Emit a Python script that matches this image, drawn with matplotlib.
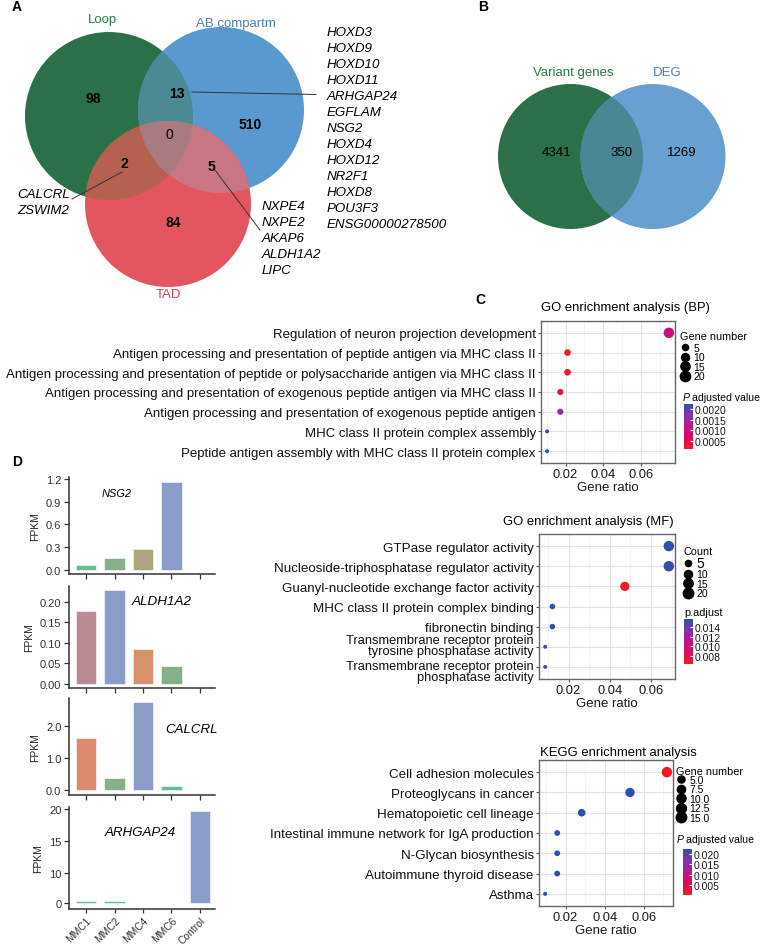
import numpy as np
import matplotlib
matplotlib.use('Agg')
import matplotlib.pyplot as plt
import matplotlib.transforms as mtransforms
from matplotlib.patches import Circle, Polygon
from matplotlib.colors import LinearSegmentedColormap
from matplotlib.lines import Line2D
from matplotlib.ticker import NullLocator

plt.rcParams['font.family'] = ['Liberation Sans', 'DejaVu Sans']

W, H = 763, 945

# ---------------- data ----------------
venn3_sets = ['Loop', 'AB compartm', 'TAD']
venn3_regions = ['Loop', 'AB', 'TAD', 'Loop&AB', 'Loop&TAD', 'AB&TAD', 'all']
venn3_counts = [98, 510, 84, 13, 2, 5, 0]
genes_loop_ab = ['HOXD3', 'HOXD9', 'HOXD10', 'HOXD11', 'ARHGAP24', 'EGFLAM', 'NSG2',
                 'HOXD4', 'HOXD12', 'NR2F1', 'HOXD8', 'POU3F3', 'ENSG00000278500']
genes_loop_tad = ['CALCRL', 'ZSWIM2']
genes_ab_tad = ['NXPE4', 'NXPE2', 'AKAP6', 'ALDH1A2', 'LIPC']

venn2_sets = ['Variant genes', 'DEG']
venn2_counts = [4341, 350, 1269]   # left only, both, right only

bp_terms = ['Regulation of neuron projection development',
            'Antigen processing and presentation of peptide antigen via MHC class II',
            'Antigen processing and presentation of peptide or polysaccharide antigen via MHC class II',
            'Antigen processing and presentation of exogenous peptide antigen via MHC class II',
            'Antigen processing and presentation of exogenous peptide antigen',
            'MHC class II protein complex assembly',
            'Peptide antigen assembly with MHC class II protein complex']
bp_ratio = [0.0747, 0.0210, 0.0210, 0.0172, 0.0172, 0.0102, 0.0102]
bp_count = [21, 6, 6, 5, 5, 3, 3]
bp_padj = [0.0010, 0.00013, 0.00015, 0.0004, 0.0016, 0.00223, 0.00223]

mf_terms = ['GTPase regulator activity',
            'Nucleoside-triphosphatase regulator activity',
            'Guanyl-nucleotide exchange factor activity',
            'MHC class II protein complex binding',
            'fibronectin binding',
            'Transmembrane receptor protein\ntyrosine phosphatase activity',
            'Transmembrane receptor protein\nphosphatase activity']
mf_ratio = [0.0686, 0.0686, 0.0473, 0.0122, 0.0122, 0.0087, 0.0087]
mf_count = [20, 20, 14, 4, 4, 3, 3]
mf_padj = [0.0157, 0.0155, 0.0063, 0.0157, 0.0157, 0.0152, 0.0152]

kegg_terms = ['Cell adhesion molecules', 'Proteoglycans in cancer',
              'Hematopoietic cell lineage', 'Intestinal immune network for IgA production',
              'N-Glycan biosynthesis', 'Autoimmune thyroid disease', 'Asthma']
kegg_ratio = [0.0718, 0.0529, 0.0282, 0.0157, 0.0157, 0.0157, 0.0095]
kegg_count = [15, 11, 6, 3, 3, 3, 2]
kegg_padj = [0.0003, 0.0222, 0.0222, 0.0222, 0.0222, 0.0222, 0.0222]

samples = ['MMC1', 'MMC2', 'MMC4', 'MMC6', 'Control']
fpkm_nsg2 = [0.066, 0.16, 0.28, 1.165, 0.0]
fpkm_aldh1a2 = [0.177, 0.228, 0.084, 0.043, 0.0]
fpkm_calcrl = [1.64, 0.37, 2.77, 0.14, 0.0]
fpkm_arhgap24 = [0.6, 0.9, 0.08, 0.08, 19.8]

# ---------------- helpers ----------------
fig = plt.figure(figsize=(W / 100, H / 100), dpi=100)


def px_axes(x0, y0, x1, y1):
    return fig.add_axes([x0 / W, 1 - y1 / H, (x1 - x0) / W, (y1 - y0) / H])


bg = px_axes(0, 0, W, H)
bg.set_xlim(0, W)
bg.set_ylim(H, 0)
bg.axis('off')


def region_poly(circles, n=720):
    # intersection of circles is convex: keep boundary points inside all, sort by angle
    pts = []
    t = np.linspace(0, 2 * np.pi, n, endpoint=False)
    for cx, cy, r in circles:
        p = np.column_stack([cx + r * np.cos(t), cy + r * np.sin(t)])
        ok = np.ones(n, bool)
        for ox, oy, orr in circles:
            ok &= (p[:, 0] - ox) ** 2 + (p[:, 1] - oy) ** 2 <= orr ** 2 + 1e-6
        pts.append(p[ok])
    pts = np.vstack(pts)
    c = pts.mean(axis=0)
    return pts[np.argsort(np.arctan2(pts[:, 1] - c[1], pts[:, 0] - c[0]))]


def panel_letter(x, y, s):
    bg.text(x, y, s, fontsize=10, fontweight='bold', ha='left', va='center')


# ---------------- A: three-set venn ----------------
loop_c, ab_c, tad_c = (109, 117, 84), (221, 111, 83), (168, 205, 83)
base_cols = ['#2b7049', '#5a99cf', '#e3565f']
for (cx, cy, r), col in zip([loop_c, ab_c, tad_c], base_cols):
    bg.add_patch(Circle((cx, cy), r, facecolor=col, edgecolor='none'))
for circ, col in [((loop_c, ab_c), '#4b8a93'), ((loop_c, tad_c), '#b4614f'),
                  ((ab_c, tad_c), '#c97684'), ((loop_c, ab_c, tad_c), '#a97b80')]:
    bg.add_patch(Polygon(region_poly(circ), closed=True, facecolor=col, edgecolor='none'))

bg.text(102, 20, venn3_sets[0], color='#2a7a48', fontsize=9.5, ha='center', va='center')
bg.text(236, 24, venn3_sets[1], color='#4a80b0', fontsize=9.5, ha='center', va='center')
bg.text(168, 295, venn3_sets[2], color='#cf4452', fontsize=9.5, ha='center', va='center')

num_pos = [(93, 99), (250, 125), (173, 223), (177, 94), (124, 164), (211, 167), (169, 135)]
for (x, y), v, reg in zip(num_pos, venn3_counts, venn3_regions):
    bg.text(x, y, str(v), fontsize=10, ha='center', va='center',
            fontweight='normal' if reg == 'all' else 'bold')

for i, g in enumerate(genes_loop_ab):
    bg.text(327, 33 + 16 * i, g, fontsize=9.6, style='italic', ha='left', va='center')
for i, g in enumerate(genes_loop_tad):
    bg.text(17, 195 + 16 * i, g, fontsize=9.6, style='italic', ha='left', va='center')
for i, g in enumerate(genes_ab_tad):
    bg.text(262, 207 + 16 * i, g, fontsize=9.6, style='italic', ha='left', va='center')
bg.plot([192, 316], [93, 95.5], color='#333333', lw=0.7)
bg.plot([72, 122], [200, 173], color='#333333', lw=0.7)
bg.plot([215, 260], [171, 231], color='#333333', lw=0.7)
panel_letter(12, 7, 'A')

# ---------------- B: two-set venn ----------------
var_c, deg_c = (570.5, 157.5, 72.5), (653, 157.5, 72.5)
bg.add_patch(Circle(var_c[:2], var_c[2], facecolor='#2b7049', edgecolor='none'))
bg.add_patch(Circle(deg_c[:2], deg_c[2], facecolor='#68a0d2', edgecolor='none'))
bg.add_patch(Polygon(region_poly((var_c, deg_c)), closed=True, facecolor='#4a8693', edgecolor='none'))
bg.text(573, 73, venn2_sets[0], color='#2a7a48', fontsize=9.5, ha='center', va='center')
bg.text(667, 73, venn2_sets[1], color='#4a7fb0', fontsize=9.5, ha='center', va='center')
for x, v in zip([556, 622, 682], venn2_counts):
    bg.text(x, 153, str(v), fontsize=9.5, ha='center', va='center')
panel_letter(478, 7, 'B')

# ---------------- C: enrichment dot plots ----------------
cmap = LinearSegmentedColormap.from_list(
    'padj', ['#ee1b2b', '#dc0a5c', '#c0128a', '#8434a6', '#2f4fb0'])


def dot_px(c, cmin, cmax):
    return 4.0 + 6.5 * np.sqrt((np.asarray(c, float) - cmin) / (cmax - cmin))


def dot_panel(box, terms, ratio, count, padj, fs):
    ax = px_axes(*box)
    n = len(terms)
    y = np.arange(n)
    cmin, cmax = min(count), max(count)
    s = (dot_px(count, cmin, cmax) * 0.72) ** 2
    sc = ax.scatter(ratio, y, s=s, c=padj, cmap=cmap, vmin=min(padj), vmax=max(padj),
                    linewidths=0, zorder=3)
    r = max(ratio) - min(ratio)
    ax.set_xlim(min(ratio) - 0.05 * r, max(ratio) + 0.05 * r)
    ax.set_ylim(n - 0.4, -0.6)
    ax.set_yticks(y)
    ax.set_yticklabels(terms, fontsize=fs, color='#111111', linespacing=0.82)
    ax.set_xticks([0.02, 0.04, 0.06])
    ax.set_xticklabels(['0.02', '0.04', '0.06'], fontsize=9.3, color='#1a1a1a')
    ax.set_xticks([0.01, 0.03, 0.05, 0.07], minor=True)
    ax.grid(which='major', color='#e2e2e2', lw=0.8)
    ax.grid(which='minor', axis='x', color='#eeeeee', lw=0.5)
    ax.set_axisbelow(True)
    for sp in ax.spines.values():
        sp.set_color('#666666')
        sp.set_linewidth(1.0)
    ax.tick_params(which='minor', length=0)
    ax.tick_params(which='major', length=2.2, color='#555555', pad=1.5)
    ax.set_xlabel('Gene ratio', fontsize=9.5, labelpad=0.5, color='#1a1a1a')
    return ax, sc, cmin, cmax


def colorbar(sc, box, ticks, labels):
    cax = px_axes(*box)
    cb = fig.colorbar(sc, cax=cax)
    cb.outline.set_visible(False)
    cb.set_ticks(ticks)
    cb.set_ticklabels(labels)
    cax.tick_params(length=2, width=0.8, color='white', direction='in', labelsize=7.5,
                    pad=1.5, labelcolor='#1a1a1a')


def size_legend(ax, breaks, labels, cmin, cmax, title, x, y_title, y_top):
    bg.text(x, y_title, title, fontsize=7.8, ha='left', va='center')
    handles = [Line2D([], [], ls='none', marker='o', color='black',
                      markersize=float(dot_px(b, cmin, cmax)) * 0.72) for b in breaks]
    leg = ax.legend(handles, labels, loc='upper left',
                    bbox_to_anchor=(x / W, 1 - y_top / H), bbox_transform=fig.transFigure,
                    frameon=False, fontsize=7.5, labelspacing=-0.05,
                    handletextpad=0.3, handlelength=1.0, borderpad=0, borderaxespad=0)
    return leg


def p_title(x, y, rest):
    bg.text(x, y, 'P', style='italic', fontsize=7.6, ha='left', va='center')
    bg.text(x + 8.5, y, rest, fontsize=7.6, ha='left', va='center')


# BP
ax_bp, sc_bp, c0, c1 = dot_panel((541, 322, 675, 464), bp_terms, bp_ratio, bp_count, bp_padj, 9.5)
panel_letter(475, 300, 'C')
bg.text(625, 308, 'GO enrichment analysis (BP)', fontsize=9.4, ha='center', va='center')
size_legend(ax_bp, [5, 10, 15, 20], ['5', '10', '15', '20'], c0, c1, 'Gene number',
            680, 337, 344)
p_title(683, 398, 'adjusted value')
colorbar(sc_bp, (684, 405, 693, 450), [0.0005, 0.0010, 0.0015, 0.0020],
         ['0.0005', '0.0010', '0.0015', '0.0020'])

# MF
ax_mf, sc_mf, c0, c1 = dot_panel((539, 535, 675, 680), mf_terms, mf_ratio, mf_count, mf_padj, 9.6)
mf_labels = ax_mf.get_yticklabels()
for lab, dy in [(mf_labels[5], 2), (mf_labels[6], -4)]:
    lab.set_fontsize(9.3)
    lab.set_transform(lab.get_transform() +
                      mtransforms.ScaledTranslation(0, dy / 100, fig.dpi_scale_trans))
bg.text(588, 522, 'GO enrichment analysis (MF)', fontsize=9.4, ha='center', va='center')
leg = size_legend(ax_mf, [5, 10, 15, 20], ['5', '10', '15', '20'], c0, c1, 'Count',
                  683, 552, 557)
leg.get_texts()[0].set_fontsize(10)
bg.text(684, 613, 'p.adjust', fontsize=7.8, ha='left', va='center')
colorbar(sc_mf, (684, 620, 693, 665), [0.008, 0.010, 0.012, 0.014],
         ['0.008', '0.010', '0.012', '0.014'])

# KEGG
ax_kg, sc_kg, c0, c1 = dot_panel((539, 761, 673, 907), kegg_terms, kegg_ratio, kegg_count, kegg_padj, 9.6)
bg.text(618, 753, 'KEGG enrichment analysis', fontsize=9.4, ha='center', va='center')
size_legend(ax_kg, [5, 7.5, 10, 12.5, 15], ['5.0', '7.5', '10.0', '12.5', '15.0'], c0, c1,
            'Gene number', 676, 772, 776)
p_title(677, 840, 'adjusted value')
colorbar(sc_kg, (683, 850, 692, 896), [0.005, 0.010, 0.015, 0.020],
         ['0.005', '0.010', '0.015', '0.020'])

# ---------------- D: FPKM bar plots ----------------
panel_letter(12, 462, 'D')
c_teal, c_green, c_olive, c_blue = '#66bd97', '#86b08a', '#aaa57c', '#8a9cc8'
c_mauve, c_orange, c_salmon = '#b98b93', '#d69369', '#dd8a6f'


def bar_panel(box, values, colors, yticks, ylabels, ylim, gene, gene_xy, gene_fs, last=False):
    ax = px_axes(*box)
    ax.set_facecolor('none')
    x = np.arange(len(samples))
    ax.bar(x, values, width=0.73, color=colors, edgecolor='white', linewidth=0.4)
    ax.set_xlim(-0.6, 4.53)
    ax.set_ylim(*ylim)
    ax.set_yticks(yticks)
    ax.set_yticklabels(ylabels, fontsize=8, color='#333333')
    ax.set_xticks(x)
    if last:
        ax.set_xticklabels(samples, rotation=45, ha='right', rotation_mode='anchor',
                           fontsize=7.4, color='#333333')
    else:
        ax.set_xticklabels([])
    for sp in ['top', 'right']:
        ax.spines[sp].set_visible(False)
    for sp in ['left', 'bottom']:
        ax.spines[sp].set_color('#333333')
        ax.spines[sp].set_linewidth(1.1)
    ax.tick_params(length=3.5, width=0.9, color='#333333', pad=2)
    if last:
        ax.tick_params(axis='x', length=3, pad=1)
    ax.set_ylabel('FPKM', fontsize=7.5, color='#222222', labelpad=4)
    bg.text(gene_xy[0], gene_xy[1], gene, style='italic', fontsize=gene_fs,
            ha='center', va='center')
    return ax


bar_panel((69, 478, 215, 575), fpkm_nsg2, [c_teal, c_green, c_olive, c_blue, c_blue],
          [0, 0.3, 0.6, 0.9, 1.2], ['0.0', '0.3', '0.6', '0.9', '1.2'], (-0.057, 1.226),
          'NSG2', (117, 494), 7.9)
bar_panel((69, 587, 215, 689), fpkm_aldh1a2, [c_mauve, c_blue, c_orange, c_green, c_blue],
          [0, 0.05, 0.10, 0.15, 0.20], ['0.00', '0.05', '0.10', '0.15', '0.20'],
          (-0.0105, 0.239), 'ALDH1A2', (162, 602), 9.7)
bar_panel((69, 699, 215, 796), fpkm_calcrl, [c_salmon, c_green, c_blue, c_teal, c_blue],
          [0, 1, 2], ['0.0', '1.0', '2.0'], (-0.148, 2.89), 'CALCRL', (192, 730), 9.5)

# bottom panel has a compressed segment below 10 on its y axis
t0 = 5.3
k = (10 - t0) / 10


def fwd(v):
    v = np.asarray(v, float)
    return np.where(v < 10, t0 + v * k, v)


def inv(t):
    t = np.asarray(t, float)
    return np.where(t < 10, (t - t0) / k, t)


ax_arh = bar_panel((69, 808, 215, 910), fpkm_arhgap24, [c_teal, c_teal, c_teal, c_teal, c_blue],
                   [0, 10, 15, 20], ['0', '10', '15', '20'], (-1.9, 20.36),
                   'ARHGAP24', (140, 833), 9.6, last=True)
ax_arh.set_yscale('function', functions=(fwd, inv))
ax_arh.set_ylim(-1.9, 20.36)
ax_arh.set_yticks([0, 10, 15, 20])
ax_arh.set_yticklabels(['0', '10', '15', '20'], fontsize=8, color='#333333')
ax_arh.yaxis.set_minor_locator(NullLocator())

fig.savefig('out.png', dpi=100)
